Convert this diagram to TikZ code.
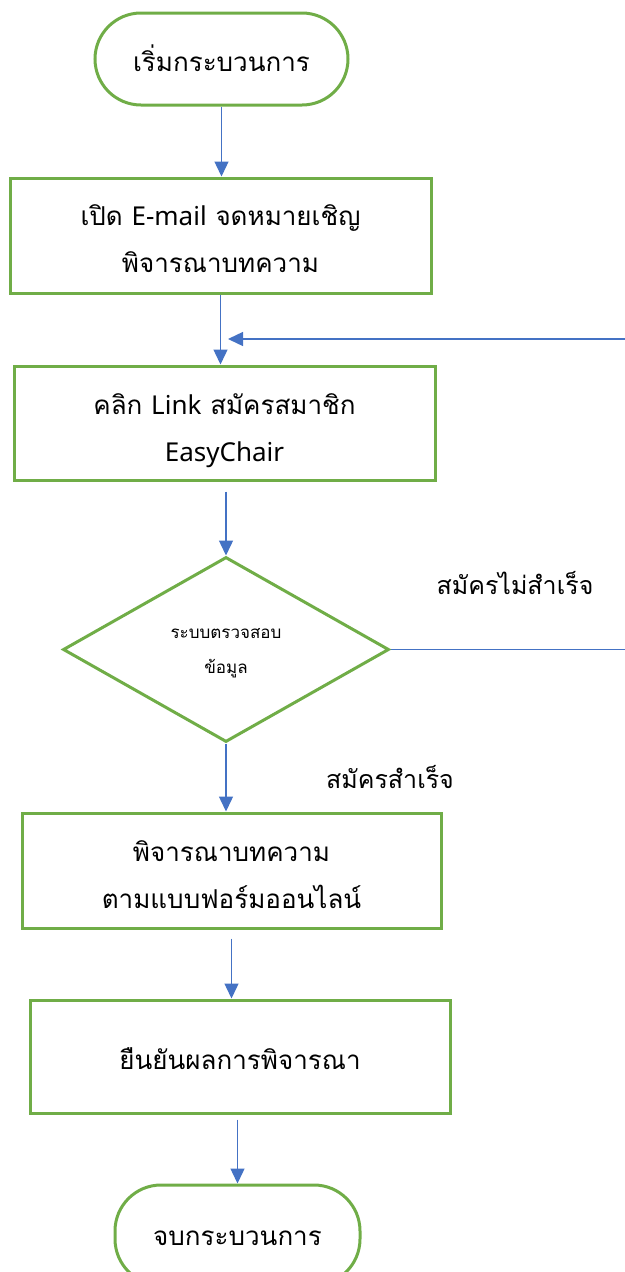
\documentclass[tikz,border=0pt]{standalone}
\usepackage{fontspec}
\setmainfont[Script=Thai]{Loma}
\newfontfamily\latf{Noto Sans}
\usetikzlibrary{arrows.meta,shapes.geometric,calc}
\definecolor{fgreen}{RGB}{112,173,71}
\definecolor{fblue}{RGB}{68,114,196}
\newcommand{\tx}[2][-4pt]{\raisebox{#1}[\height][\depth]{\begin{tabular}{@{}c@{}}#2\end{tabular}}}
\tikzset{
  box/.style={draw=fgreen,line width=3pt,rectangle,inner sep=0pt,
    font=\fontsize{26}{47}\selectfont},
  term/.style={box,rounded corners=46pt},
  dec/.style={draw=fgreen,line width=3pt,diamond,aspect=1.76,inner sep=0pt,
    minimum width=326pt,minimum height=185pt,font=\fontsize{17}{35}\selectfont},
  arr/.style={draw=fblue,line width=1.4pt,-{Triangle[length=15pt,width=14pt]}},
  lbl/.style={font=\fontsize{25}{30}\selectfont,inner sep=0pt},
}
\begin{document}
\begin{tikzpicture}[x=1pt,y=-1pt]
\useasboundingbox (0,0) rectangle (624,1272);
\node[term,minimum width=253pt,minimum height=92pt] (start) at (221.5,59) {\tx[-3pt]{เริ่มกระบวนการ}};
\node[box,minimum width=421pt,minimum height=115pt] (b1) at (220.5,235.5) {\tx{เปิด {\latf E-mail} จดหมายเชิญ\\พิจารณาบทความ}};
\node[box,minimum width=421pt,minimum height=114pt] (b2) at (224.5,423) {\tx[-6pt]{คลิก {\latf Link} สมัครสมาชิก\\{\latf EasyChair}}};
\node[dec] (dia) at (226,649.5) {\tx[1pt]{ระบบตรวจสอบ\\ข้อมูล}};
\node[box,minimum width=419pt,minimum height=115pt] (b3) at (231.5,870.5) {\tx[-5pt]{พิจารณาบทความ\\ตามแบบฟอร์มออนไลน์}};
\node[box,minimum width=420pt,minimum height=113pt] (b4) at (240,1056.5) {\tx[-4pt]{ยืนยันผลการพิจารณา}};
\node[term,minimum width=245pt,minimum height=100pt] (end) at (237.5,1235) {\tx[-1pt]{จบกระบวนการ}};
\node[lbl] (lno) at (515,583) {สมัครไม่สำเร็จ};
\node[lbl] (lyes) at (390,777) {สมัครสำเร็จ};
\coordinate (fb) at (228,339);
\coordinate (far) at (660,339);
\draw[arr] (start.south) -- (start.south |- b1.north);
\draw[arr] (b1.south) -- (b1.south |- b2.north);
\draw[arr] ([yshift=-10pt]b2.south -| dia.north) -- (dia.north);
\draw[arr] (dia.south) -- (dia.south |- b3.north);
\draw[arr] ([yshift=-9pt]b3.south) -- (b3.south |- b4.north);
\draw[arr] ([yshift=-5pt]b4.south -| end.north) -- (end.north);
\draw[arr] (dia.east) -- (dia.east -| far) -- (far) -- (fb);
\end{tikzpicture}
\end{document}
